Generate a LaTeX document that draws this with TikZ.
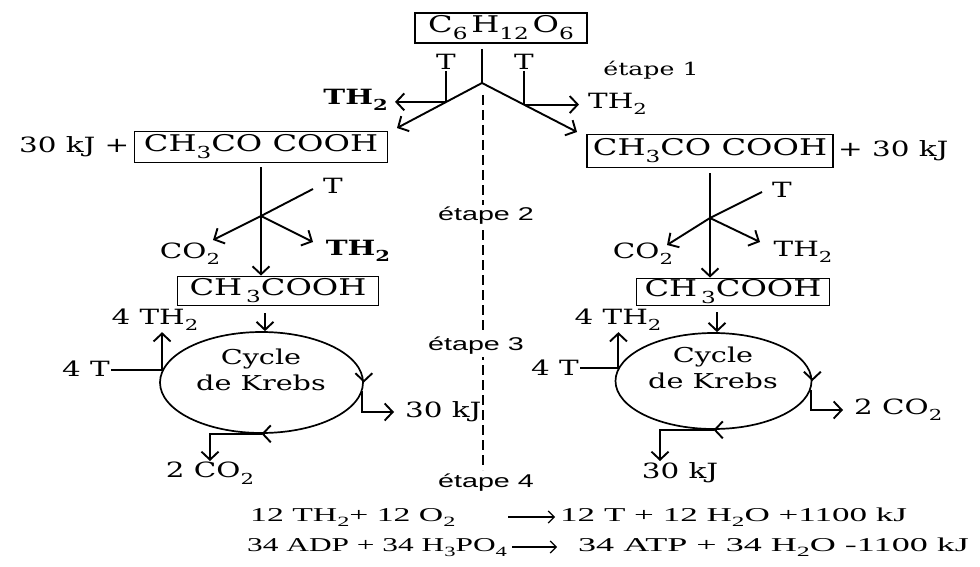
\documentclass[tikz,border=0pt]{standalone}
\usepackage{fontspec}
\usepackage{graphicx}
\setmainfont{DejaVu Serif}[FakeStretch=1.4]
\newfontfamily\eqfont{Liberation Serif}[FakeStretch=1.72]
\newfontfamily\stagefont{Liberation Sans}[FakeStretch=1.55]
\usepackage{tikz}
\usetikzlibrary{arrows.meta, positioning, calc, shapes.geometric}
\newcommand{\subx}[1]{\raisebox{-0.3em}{\scalebox{0.72}{#1}}}
\tikzset{
  formula/.style={rectangle, draw, line width=1.8pt, inner sep=0pt,
                  font=\fontsize{23}{26}\selectfont},
  lab/.style={inner sep=1pt, font=\fontsize{21}{24}\selectfont},
  boldlab/.style={lab, font=\bfseries\fontsize{21}{24}\selectfont},
  stage/.style={inner sep=2pt, font=\stagefont\fontsize{18.5}{22}\selectfont},
  eqn/.style={inner sep=0pt, font=\eqfont\fontsize{19.6}{22}\selectfont},
  ln/.style={line width=1.9pt},
  arr/.style={ln, -{Straight Barb[length=8pt, width=17pt]}},
  eqarr/.style={line width=1.2pt, -{Straight Barb[length=6pt, width=12pt]}},
  krebs/.style={ellipse, draw, line width=1.7pt, inner sep=0pt},
  sep/.style={line width=2.2pt, dash pattern=on 10pt off 5pt},
}

\begin{document}
\begin{tikzpicture}[x=1pt, y=-1pt]
  \useasboundingbox (0,0) rectangle (980,567);
  \fill[white] (0,0) rectangle (980,567);

  % glucose and the split
  \node[formula, minimum width=172, minimum height=30] (glu) at (501,28)
    {C\subx{6}\,H\subx{12}\,O\subx{6}};
  \node[lab, font=\fontsize{18}{20}\selectfont] (et1) at (651,70) {étape 1};
  \coordinate (s) at (482,83);
  \coordinate (sl) at (397,128);
  \coordinate (sr) at (577,132);
  \coordinate (jl) at ($(s)!0.42!(sl)$);
  \coordinate (jr) at ($(s)!0.44!(sr)$);
  \node[lab] (tl) at (446,62) {T};
  \node[lab] (tr) at (524,62) {T};
  \node[boldlab, anchor=east] (th2l) at (389,100) {TH\subx{2}};
  \node[lab, anchor=west] (th2r) at (587,104) {TH\subx{2}};
  \draw[ln, shorten <=5pt] (glu.south -| s) -- (s);
  \draw[arr] (s) -- (sl);
  \draw[arr] (s) -- (sr);
  \draw[ln] (tl.south -| jl) -- (jl);
  \draw[arr, shorten >=6pt] (jl) -- (jl -| th2l.east);
  \draw[ln] (tr.south -| jr) -- (jr);
  \draw[arr, shorten >=8pt] (jr) -- (jr -| th2r.west);

  % separation
  \coordinate (d1) at (483,95);
  \coordinate (d2) at (483,470);
  \draw[sep] (d1) -- (d2);
  \node[stage, fill=white] (et2) at (486,216) {étape 2};
  \node[stage, fill=white] (et3) at (476,346) {étape 3};
  \node[stage] (et4) at (486,483) {étape 4};

  % left side
  \node[formula, minimum width=253, minimum height=31] (pyrl) at (261,147)
    {CH\subx{3}CO COOH};
  \node[lab, left=3pt of pyrl] (kjpl) {30 kJ +};
  \node[formula, minimum width=201, minimum height=29] (acl) at (278,291)
    {CH\,\subx{3}COOH};
  \draw[arr, shorten <=4pt] (pyrl.south) -- (pyrl.south |- acl.north);
  \coordinate (ml) at (261,216);
  \coordinate (tal) at (313,189);
  \coordinate (cl) at (213,240);
  \coordinate (hl) at (313,242);
  \node[lab] (tpl) at (333,186) {T};
  \node[lab] (co2l) at (190,254) {CO\subx{2}};
  \node[boldlab] (th2lb) at (358,251) {TH\subx{2}};
  \draw[ln] (tal) -- (ml);
  \draw[arr] (ml) -- (cl);
  \draw[arr] (ml) -- (hl);
  \node[krebs, minimum width=203, minimum height=101] (kl) at (261.5,382.5) {};
  \node[lab, align=center, font=\fontsize{20.5}{26}\selectfont] (kltxt) at (261,370)
    {Cycle\\de Krebs};
  \coordinate (al) at (265,313);
  \draw[arr] (al) -- (al |- kl.north);
  \node[lab, anchor=east] (t4l) at (111,369) {4 T};
  \node[lab] (th4l) at (155,320) {4 TH\subx{2}};
  \node[lab, anchor=west] (kj30l) at (404,412) {30 kJ};
  \node[lab, anchor=north] (co22l) at (210,461) {2 CO\subx{2}};
  \draw[ln] (kl.173 -| t4l.east) -- (kl.173);
  \draw[arr] (kl.173) -- (kl.173 |- th4l.south);
  \draw[arr, shorten >=10pt] (kl.-5) |- (kj30l.west);
  \draw[arr] (kl.south) -| (co22l.north);
  \draw[arr] ([yshift=3pt]kl.east) -- (kl.east);
  \draw[arr] ([xshift=3pt]kl.south) -- (kl.south);

  % right side
  \node[formula, minimum width=246, minimum height=33] (pyrr) at (710,151)
    {CH\subx{3}CO COOH};
  \node[lab, right=3pt of pyrr] (kjpr) {+ 30 kJ};
  \node[formula, minimum width=193, minimum height=27] (acr) at (733,292)
    {CH\,\subx{3}COOH};
  \draw[arr, shorten <=5pt] (pyrr.south) -- (pyrr.south |- acr.north);
  \coordinate (mr) at (710,218);
  \coordinate (tar) at (762,192);
  \coordinate (cr) at (667,245);
  \coordinate (hr) at (760,242);
  \node[lab] (tpr) at (782,190) {T};
  \node[lab] (co2r) at (643,254) {CO\subx{2}};
  \node[lab] (th2rb) at (803,252) {TH\subx{2}};
  \draw[ln] (tar) -- (mr);
  \draw[arr] (mr) -- (cr);
  \draw[arr] (mr) -- (hr);
  \node[krebs, minimum width=196, minimum height=96] (kr) at (713.5,381) {};
  \node[lab, align=center, font=\fontsize{20.5}{26}\selectfont] (krtxt) at (713,368)
    {Cycle\\de Krebs};
  \coordinate (ar) at (717,312);
  \draw[arr] (ar) -- (ar |- kr.north);
  \node[lab, anchor=east] (t4r) at (580,368) {4 T};
  \node[lab] (th4r) at (618,320) {4 TH\subx{2}};
  \node[lab, anchor=west] (co22r) at (853,410) {2 CO\subx{2}};
  \node[lab, anchor=north] (kj30r) at (680,461) {30 kJ};
  \draw[ln] (kr.172 -| t4r.east) -- (kr.172);
  \draw[arr] (kr.172) -- (kr.172 |- th4r.south);
  \draw[arr, shorten >=10pt] (kr.-5) |- (co22r.west);
  \draw[arr] (kr.south) -| ([xshift=-20pt]kj30r.north);
  \draw[arr] ([yshift=3pt]kr.east) -- (kr.east);
  \draw[arr] ([xshift=3pt]kr.south) -- (kr.south);

  % respiratory chain
  \node[eqn, anchor=base west] (eq1a) at (250,521) {12 TH\subx{2}+ 12 O\subx{2}};
  \node[eqn, anchor=base west] (eq1b) at (560,521)
    {\scalebox{1.04}[1]{12 T + 12 H\subx{2}O +1100 kJ}};
  \node[eqn, anchor=base west] (eq2a) at (247,551)
    {\scalebox{0.93}[1]{34 ADP + 34 H\subx{3}PO\subx{4}}};
  \node[eqn, anchor=base west] (eq2b) at (578,551)
    {\scalebox{1.07}[1]{34 ATP + 34 H\subx{2}O -1100 kJ}};
  \coordinate (r1a) at (508,517);
  \coordinate (r1b) at (555,517);
  \coordinate (r2a) at (512,547);
  \coordinate (r2b) at (557,547);
  \draw[eqarr] (r1a) -- (r1b);
  \draw[eqarr] (r2a) -- (r2b);
\end{tikzpicture}
\end{document}
